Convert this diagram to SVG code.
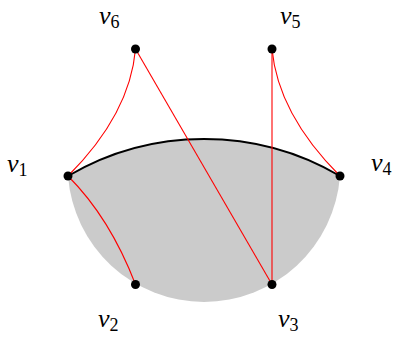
<svg xmlns="http://www.w3.org/2000/svg" width="396" height="343" viewBox="0 0 396 343">
<style>
.lbl{font-family:"Liberation Serif","DejaVu Serif",serif;font-size:26px;fill:#000}
.v{font-style:italic}
.sub{font-size:18px}
.edge{fill:none;stroke:#ff0000;stroke-width:1.1}
.pt{fill:#000}
</style>
<rect width="396" height="343" fill="#fff"/>
<g id="region">
<path d="M68,176 A136.4,136.4 0 0 0 340,176 A268.4,268.4 0 0 0 68,176 Z" fill="#cbcbcb"/>
<path d="M68,176 A268.4,268.4 0 0 1 340,176" fill="none" stroke="#000" stroke-width="2"/>
</g>
<g id="connectors">
<path class="edge" d="M135.5,49 Q130,114 68,176"/>
<path class="edge" d="M272,49 Q278,114 340,176"/>
<path class="edge" d="M68,176 Q110,218 135.5,284.5"/>
<path class="edge" d="M135.5,49 L272,284.5"/>
<path class="edge" d="M272,49 L272,284.5"/>
</g>
<g id="v1"><circle class="pt" cx="68" cy="176" r="4.5"/><text class="lbl" x="7" y="172"><tspan class="v">v</tspan><tspan class="sub" dy="4">1</tspan></text></g>
<g id="v2"><circle class="pt" cx="135.5" cy="284.5" r="4.5"/><text class="lbl" x="98" y="327"><tspan class="v">v</tspan><tspan class="sub" dy="4">2</tspan></text></g>
<g id="v3"><circle class="pt" cx="272" cy="284.5" r="4.5"/><text class="lbl" x="278" y="327"><tspan class="v">v</tspan><tspan class="sub" dy="4">3</tspan></text></g>
<g id="v4"><circle class="pt" cx="340" cy="176" r="4.5"/><text class="lbl" x="371" y="171"><tspan class="v">v</tspan><tspan class="sub" dy="4">4</tspan></text></g>
<g id="v5"><circle class="pt" cx="272" cy="49" r="4.5"/><text class="lbl" x="280" y="24"><tspan class="v">v</tspan><tspan class="sub" dy="4">5</tspan></text></g>
<g id="v6"><circle class="pt" cx="135.5" cy="49" r="4.5"/><text class="lbl" x="99" y="24"><tspan class="v">v</tspan><tspan class="sub" dy="4">6</tspan></text></g>
</svg>
